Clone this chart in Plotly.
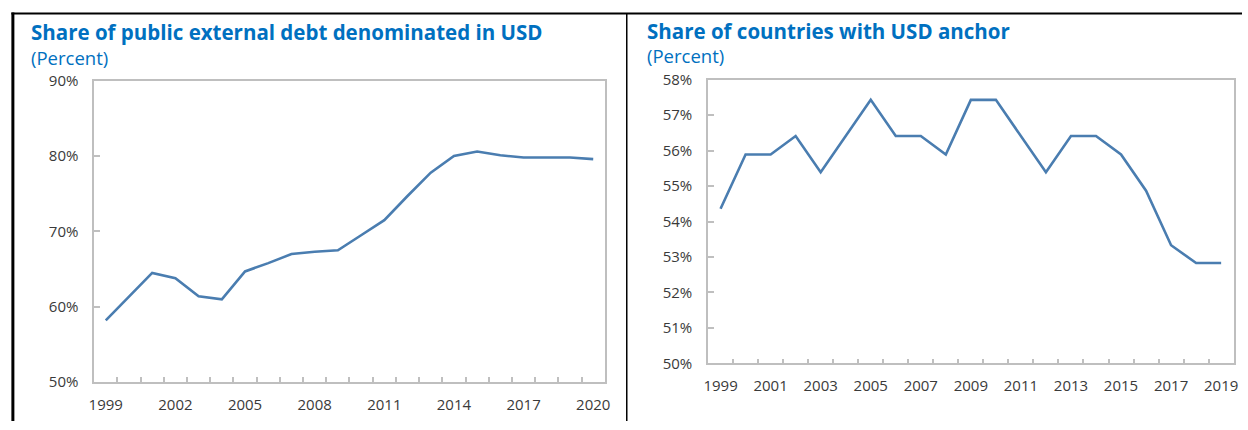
import plotly.graph_objects as go

# Data
years_debt = list(range(1999, 2021))
share_debt_usd = [58.2, 61.4, 64.5, 63.8, 61.4, 61.0, 64.7, 65.8, 67.0, 67.3, 67.5,
                  69.5, 71.5, 74.7, 77.8, 80.0, 80.6, 80.1, 79.8, 79.8, 79.8, 79.6]
debt_tick_years = [1999, 2002, 2005, 2008, 2011, 2014, 2017, 2020]
debt_y_ticks = [50, 60, 70, 80, 90]

years_anchor = list(range(1999, 2020))
share_usd_anchor = [54.36, 55.89, 55.89, 56.41, 55.39, 56.41, 57.43, 56.41, 56.41, 55.89,
                    57.43, 57.43, 56.41, 55.39, 56.41, 56.41, 55.89, 54.87, 53.33, 52.83, 52.83]
anchor_tick_years = list(range(1999, 2020, 2))
anchor_y_ticks = list(range(50, 59))

title_left = "Share of public external debt denominated in USD"
title_right = "Share of countries with USD anchor"
subtitle = "(Percent)"

W, H = 1248, 430
# target-pixel -> paper fraction (compensating observed render offset/scale)
def px(x):
    d = (x - 3.6) / 0.993
    return min(max(d / W, 0), 1)
def py(y):
    d = (y - 9.0) / 0.958
    return min(max(1 - d / H, 0), 1)

LINE = "#4A7DB0"
BLUE = "#0070C0"
AX = "#BFBFBF"
TXT = "#3A3A3A"
FONT = "Open Sans"

fig = go.Figure()
fig.add_trace(go.Scatter(x=years_debt, y=share_debt_usd, mode="lines",
                         line=dict(color=LINE, width=2.6), xaxis="x", yaxis="y",
                         showlegend=False))
fig.add_trace(go.Scatter(x=years_anchor, y=share_usd_anchor, mode="lines",
                         line=dict(color=LINE, width=2.6), xaxis="x2", yaxis="y2",
                         showlegend=False))

common_x = dict(showgrid=False, zeroline=False, showline=True, linecolor=AX, linewidth=1.5,
                mirror=True, ticks="", tickfont=dict(size=15, color=TXT, family=FONT),
                ticklabelstandoff=8)
common_y = dict(showgrid=False, zeroline=False, showline=True, linecolor=AX, linewidth=1.5,
                mirror=True, ticks="inside", ticklen=6, tickcolor=AX, tickwidth=1.5,
                tickfont=dict(size=15, color=TXT, family=FONT),
                ticklabelstandoff=11)

fig.update_layout(
    width=W, height=H, margin=dict(l=0, r=0, t=0, b=0),
    paper_bgcolor="white", plot_bgcolor="white",
    xaxis=dict(domain=[px(92), px(604)], range=[1998.5, 2020.5], tickvals=debt_tick_years,
               minor=dict(tickvals=[y + 0.5 for y in years_debt[:-1]], ticks="inside",
                          ticklen=5, tickcolor=AX, tickwidth=1.5),
               anchor="y", **common_x),
    yaxis=dict(domain=[py(382), py(79)], range=[50, 90], tickvals=debt_y_ticks,
               ticktext=[f"{v}%" for v in debt_y_ticks], anchor="x", **common_y),
    xaxis2=dict(domain=[px(707.5), px(1234.5)], range=[1998.5, 2019.5], tickvals=anchor_tick_years,
                minor=dict(tickvals=[y + 0.5 for y in years_anchor[:-1]], ticks="inside",
                           ticklen=5, tickcolor=AX, tickwidth=1.5),
                anchor="y2", **common_x),
    yaxis2=dict(domain=[py(363), py(78)], range=[50, 58], tickvals=anchor_y_ticks,
                ticktext=[f"{v}%" for v in anchor_y_ticks], anchor="x2", **common_y),
)

annos = [
    (27, 30, title_left, 20.5, True),
    (27, 56, subtitle, 18.5, False),
    (644, 29, title_right, 20.5, True),
    (644, 54, subtitle, 18.5, False),
]
for x, y, t, s, b in annos:
    fig.add_annotation(x=px(x), y=py(y), xref="paper", yref="paper", xanchor="left",
                       yanchor="middle", showarrow=False,
                       text=f"<b>{t}</b>" if b else t,
                       font=dict(size=s, color=BLUE, family=FONT))

# frame lines
fig.add_shape(type="line", xref="paper", yref="paper", x0=px(9), x1=1, y0=py(11.5), y1=py(11.5),
              line=dict(color="black", width=2))
fig.add_shape(type="line", xref="paper", yref="paper", x0=px(10.5), x1=px(10.5), y0=py(10.5), y1=0,
              line=dict(color="black", width=3))
fig.add_shape(type="line", xref="paper", yref="paper", x0=px(626), x1=px(626), y0=py(11), y1=py(428),
              line=dict(color="black", width=1.5))

css_fix = (
    "var s=document.createElement('style');"
    "s.textContent='html,body{margin:0!important;padding:0!important;overflow:hidden!important;}';"
    "document.head.appendChild(s);"
)
fig.write_html("out.html", config={"displayModeBar": False}, post_script=css_fix)
